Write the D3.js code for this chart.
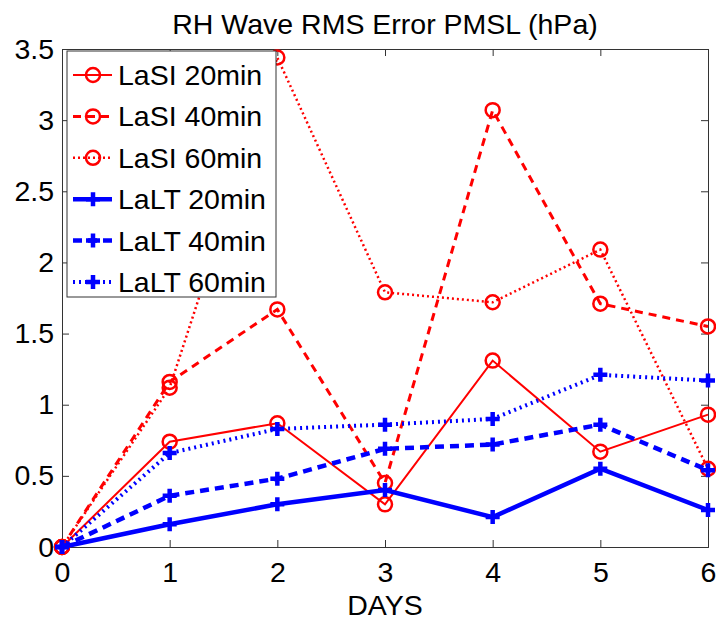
<!DOCTYPE html>
<html>
<head>
<meta charset="utf-8">
<script src="https://cdn.jsdelivr.net/npm/d3@7"></script>
<style>
  body { margin: 0; background: #fff; }
  text { font-family: "Liberation Sans", Arial, sans-serif; }
</style>
</head>
<body>
<div id="chart"></div>
<script>
// data
const days = [0, 1, 2, 3, 4, 5, 6];
const seriesNames = ["LaSI 20min", "LaSI 40min", "LaSI 60min", "LaLT 20min", "LaLT 40min", "LaLT 60min"];
const lasi20 = [0, 0.74, 0.87, 0.30, 1.31, 0.67, 0.93];
const lasi40 = [0, 1.16, 1.67, 0.45, 3.07, 1.71, 1.55];
const lasi60 = [0, 1.12, 3.44, 1.79, 1.72, 2.09, 0.55];
const lalt20 = [0, 0.16, 0.30, 0.40, 0.21, 0.55, 0.26];
const lalt40 = [0, 0.36, 0.48, 0.69, 0.72, 0.86, 0.54];
const lalt60 = [0, 0.66, 0.83, 0.86, 0.90, 1.21, 1.17];
const yTicks = [0, 0.5, 1, 1.5, 2, 2.5, 3, 3.5];
const xTicks = [0, 1, 2, 3, 4, 5, 6];

const W = 716, H = 625;
const margin = { left: 62, right: 8, top: 49, bottom: 78 };
const FS = "28.5px";

// styles per series
const styles = [
  { color: "#ff0000", width: 2, dash: null, marker: "circle" },
  { color: "#ff0000", width: 3, dash: "8,6", marker: "circle" },
  { color: "#ff0000", width: 2.5, dash: "2,3", marker: "circle" },
  { color: "#0000ff", width: 4.5, dash: null, marker: "plus" },
  { color: "#0000ff", width: 4.5, dash: "9,6", marker: "plus" },
  { color: "#0000ff", width: 4, dash: "2,4", marker: "plus" }
];
const allSeries = [lasi20, lasi40, lasi60, lalt20, lalt40, lalt60];

const svg = d3.select("#chart").append("svg")
  .attr("width", W).attr("height", H);

const x = d3.scaleLinear().domain([0, 6]).range([margin.left, W - margin.right]);
const y = d3.scaleLinear().domain([0, 3.5]).range([H - margin.bottom, margin.top]);

const x0 = x.range()[0], x1 = x.range()[1];
const y0 = y.range()[0], y1 = y.range()[1];

// axes (ticks inward, MATLAB style)
const xAxisB = d3.axisBottom(x).tickValues(xTicks).tickSize(-7).tickPadding(15).tickFormat(d3.format("d"));
const xAxisT = d3.axisTop(x).tickValues(xTicks).tickSize(-7).tickFormat("");
const yAxisL = d3.axisLeft(y).tickValues(yTicks).tickSize(-7).tickPadding(8).tickFormat(d => String(d));
const yAxisR = d3.axisRight(y).tickValues(yTicks).tickSize(-7).tickFormat("");

function styleAxis(g) {
  g.select(".domain").attr("stroke", "#333").attr("stroke-width", 1);
  g.selectAll(".tick line").attr("stroke", "#333").attr("stroke-width", 1);
  g.selectAll(".tick text").attr("fill", "#000").style("font-size", FS)
    .style("font-family", "Liberation Sans, Arial, sans-serif");
}

svg.append("g").attr("transform", `translate(0,${y0})`).call(xAxisB).call(styleAxis);
svg.append("g").attr("transform", `translate(0,${y1})`).call(xAxisT).call(styleAxis);
svg.append("g").attr("transform", `translate(${x0},0)`).call(yAxisL).call(styleAxis);
svg.append("g").attr("transform", `translate(${x1},0)`).call(yAxisR).call(styleAxis);

// lines
const line = d3.line().x((d, i) => x(days[i])).y(d => y(d));
const plot = svg.append("g");

function drawMarker(g, cx, cy, st) {
  if (st.marker === "circle") {
    g.append("circle").attr("cx", cx).attr("cy", cy).attr("r", 7)
      .attr("fill", "none").attr("stroke", st.color).attr("stroke-width", 2.5);
  } else {
    g.append("path")
      .attr("d", `M${cx - 7},${cy}H${cx + 7}M${cx},${cy - 7}V${cy + 7}`)
      .attr("stroke", st.color).attr("stroke-width", 4.5).attr("fill", "none");
  }
}

allSeries.forEach((vals, k) => {
  const st = styles[k];
  plot.append("path").datum(vals)
    .attr("d", line)
    .attr("fill", "none")
    .attr("stroke", st.color)
    .attr("stroke-width", st.width)
    .attr("stroke-dasharray", st.dash);
  vals.forEach((v, i) => drawMarker(plot, x(days[i]), y(v), st));
});

// legend
const leg = svg.append("g");
leg.append("rect").attr("x", 67).attr("y", 51).attr("width", 209).attr("height", 246)
  .attr("fill", "#fff").attr("stroke", "#333").attr("stroke-width", 1);
seriesNames.forEach((name, k) => {
  const st = styles[k];
  const ly = 75 + k * 41.4;
  leg.append("line").attr("x1", 73).attr("x2", 112).attr("y1", ly).attr("y2", ly)
    .attr("stroke", st.color).attr("stroke-width", st.width)
    .attr("stroke-dasharray", st.dash);
  drawMarker(leg, 93, ly, st);
  leg.append("text").attr("x", 118).attr("y", ly + 10)
    .style("font-size", FS).attr("fill", "#000").text(name);
});

// title and axis label
svg.append("text").attr("x", (x0 + x1) / 2).attr("y", 34)
  .attr("text-anchor", "middle").style("font-size", FS)
  .text("RH Wave RMS Error PMSL (hPa)");
svg.append("text").attr("x", (x0 + x1) / 2).attr("y", 615)
  .attr("text-anchor", "middle").style("font-size", FS)
  .text("DAYS");
</script>
</body>
</html>
